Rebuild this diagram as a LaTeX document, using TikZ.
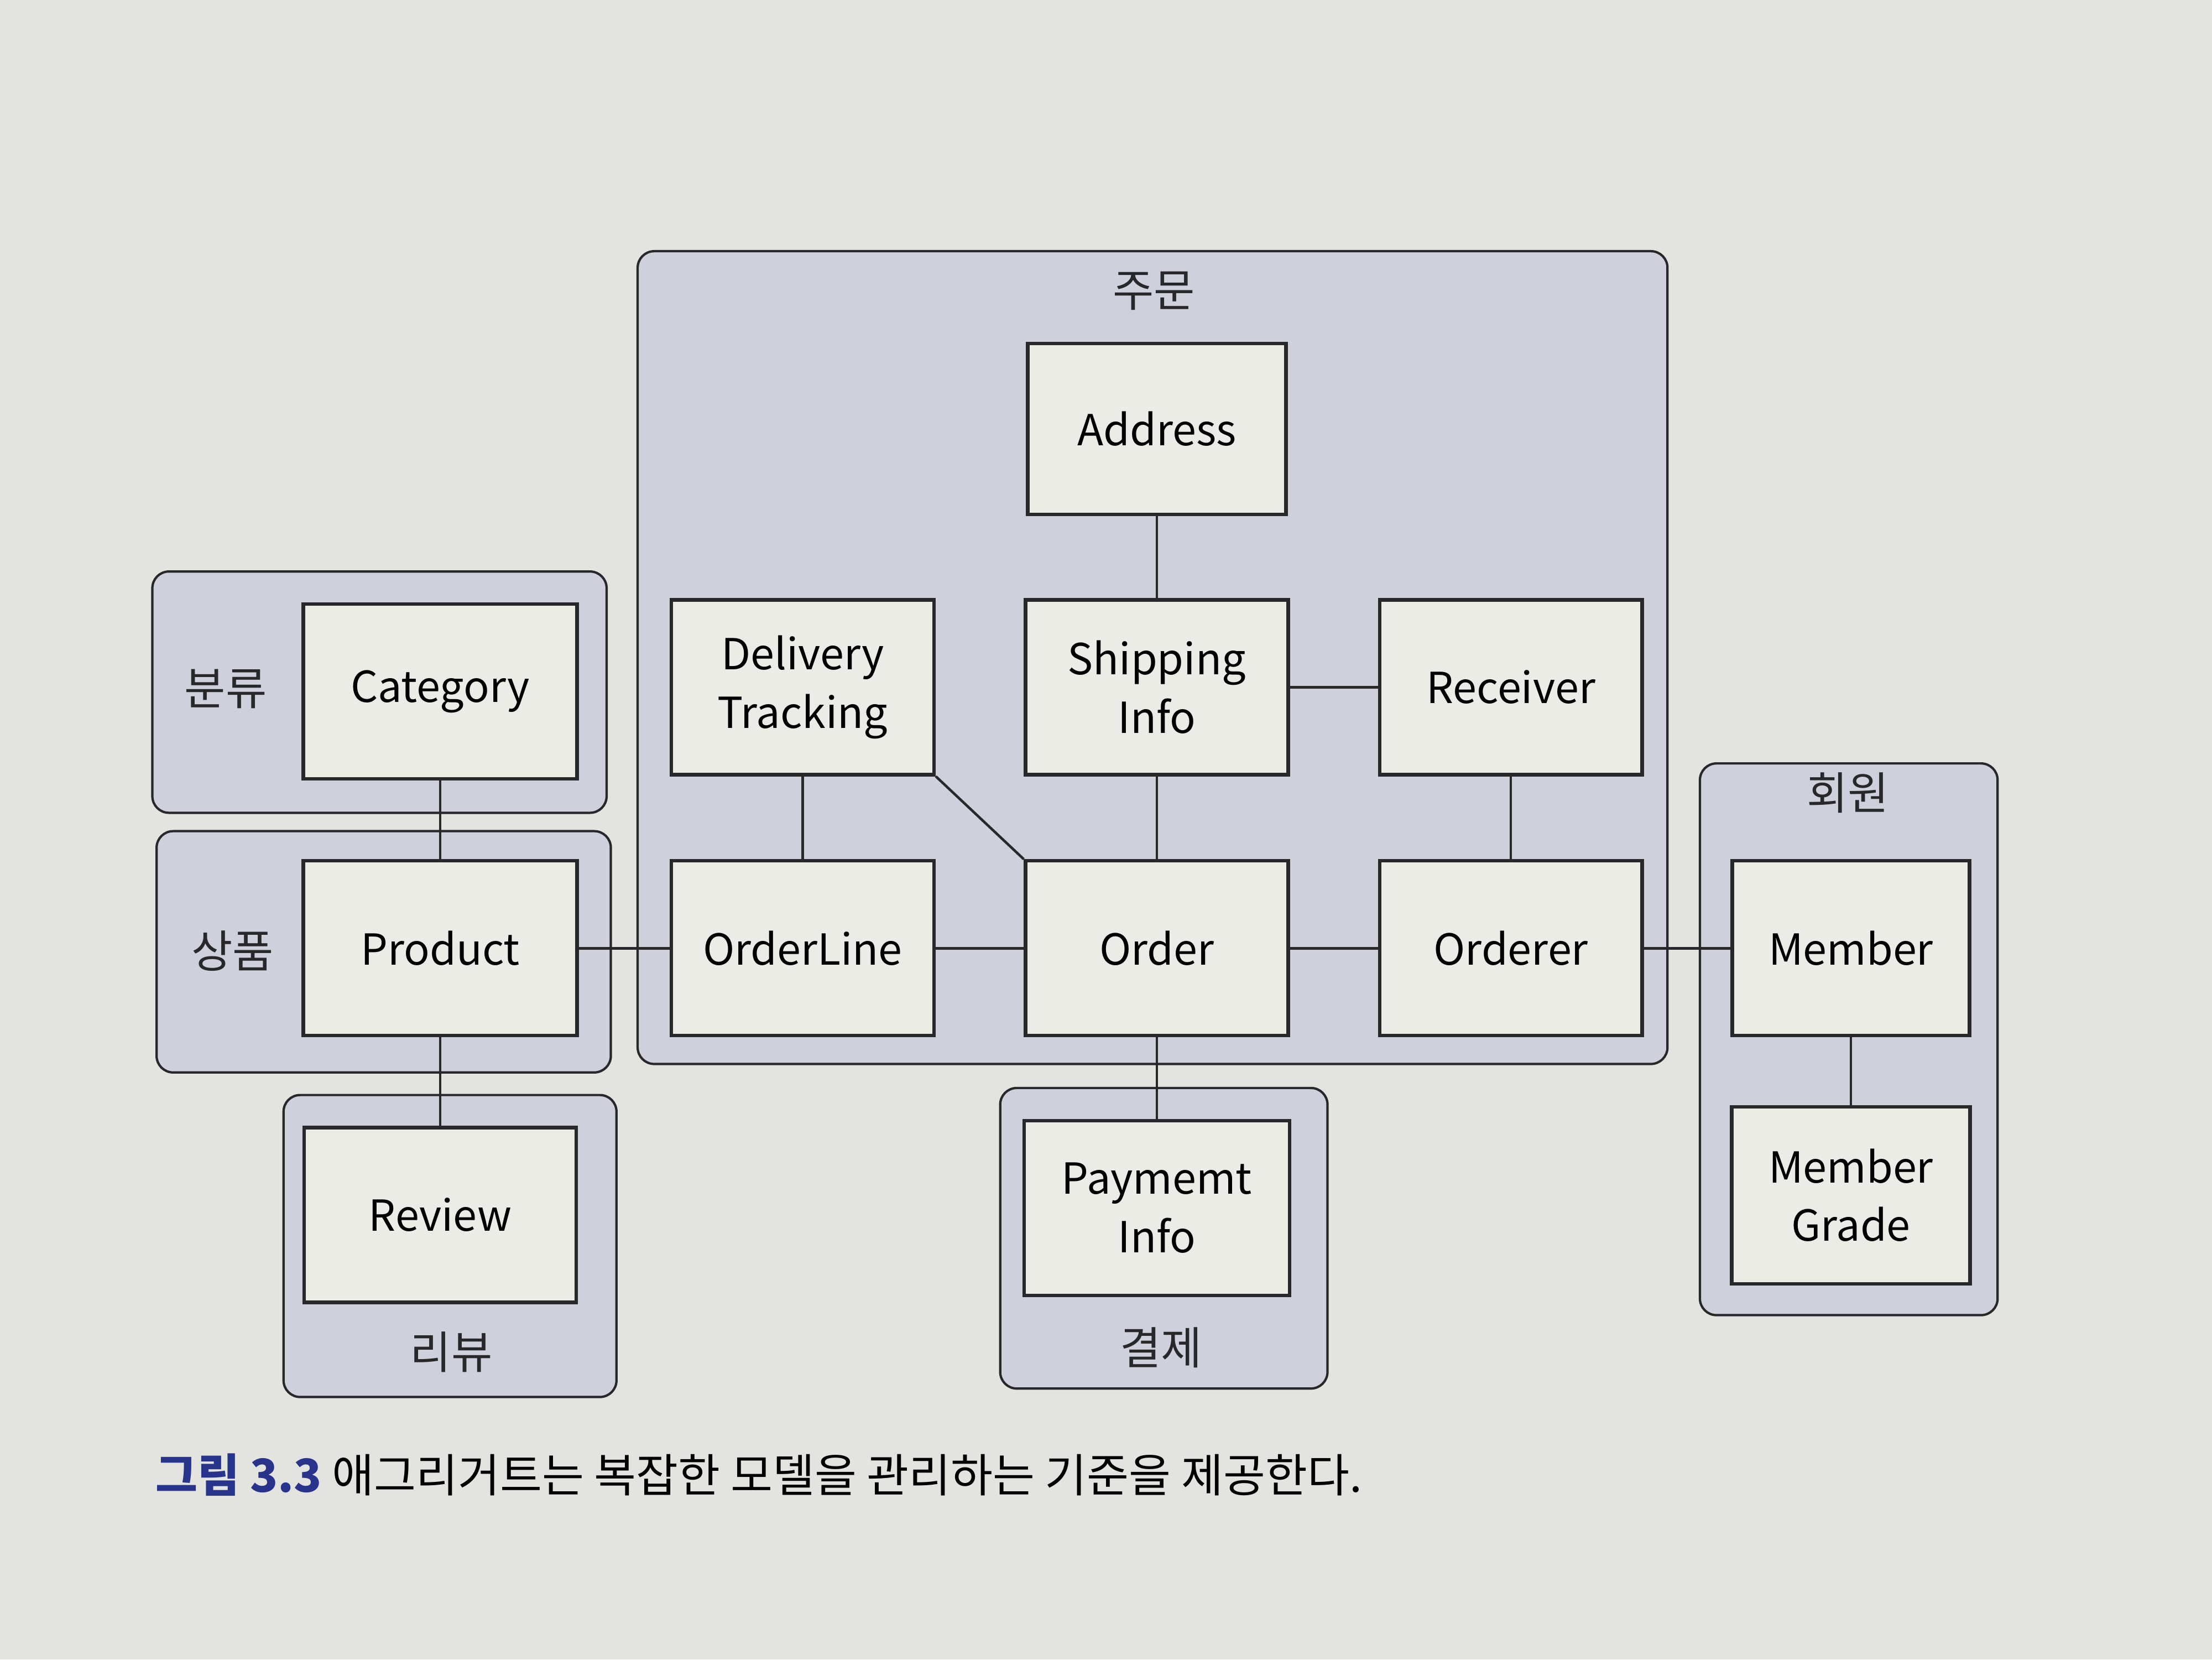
\documentclass[tikz,border=0pt]{standalone}
\usepackage{fontspec}
\setmainfont{Noto Sans CJK KR}
\definecolor{pagebg}{RGB}{227,228,224}
\definecolor{groupfill}{RGB}{206,208,220}
\definecolor{boxfill}{RGB}{236,236,231}
\definecolor{linedark}{RGB}{40,40,42}
\definecolor{captionblue}{RGB}{40,52,140}
\newcommand{\entityfont}{\fontsize{22}{30}\selectfont}
\newcommand{\groupfont}{\fontsize{23}{28}\selectfont}
\tikzset{
    entity/.style={draw=linedark, line width=1.8pt, fill=boxfill,
        minimum width=4.75cm, minimum height=3.16cm, align=center,
        inner sep=0pt, font=\entityfont},
    context/.style={draw=linedark, line width=1.2pt, fill=groupfill,
        rounded corners=0.3cm},
    grouplabel/.style={font=\groupfont, text=linedark},
    link/.style={draw=linedark, line width=1.3pt},
}
\begin{document}
\begin{tikzpicture}[x=0.02551cm, y=-0.02551cm]
    % page
    \fill[pagebg] (0,0) rectangle (1568,1176);
    \useasboundingbox (0,0) rectangle (1568,1176);

    % Draw aggregate groups
    \draw[context] (452,178) rectangle (1182,754);
    \draw[context] (108,405) rectangle (430,576);
    \draw[context] (111,589) rectangle (433,760);
    \draw[context] (201,776) rectangle (437,990);
    \draw[context] (709,771) rectangle (941,984);
    \draw[context] (1205,541) rectangle (1416,932);

    \node[grouplabel] (ordergrp) at (818,206) {주문};
    \node[grouplabel] (categorygrp) at (160,488) {분류};
    \node[grouplabel] (productgrp) at (165,674) {상품};
    \node[grouplabel] (reviewgrp) at (320,958) {리뷰};
    \node[grouplabel] (paymentgrp) at (823,955) {결제};
    \node[grouplabel] (membergrp) at (1310,562) {회원};

    % Draw entities
    \node[entity, minimum width=4.67cm, minimum height=3.09cm] (address) at (820,304) {Address};
    \node[entity] (delivery) at (569,487) {Delivery\\Tracking};
    \node[entity] (shipping) at (820,487) {Shipping\\Info};
    \node[entity] (receiver) at (1071,487) {Receiver};
    \node[entity] (orderline) at (569,672) {OrderLine};
    \node[entity] (order) at (820,672) {Order};
    \node[entity] (orderer) at (1071,672) {Orderer};

    \node[entity, minimum width=4.95cm] (category) at (312,490) {Category};
    \node[entity, minimum width=4.95cm] (product) at (312,672) {Product};
    \node[entity, minimum width=4.92cm] (review) at (312,861) {Review};
    \node[entity, minimum width=4.8cm] (payment) at (820,856) {Paymemt\\Info};
    \node[entity, minimum width=4.29cm] (member) at (1312,672) {Member};
    \node[entity, minimum width=4.31cm, minimum height=3.2cm] (grade) at (1312,847) {Member\\Grade};

    % Draw associations
    \draw[link] (address) -- (shipping);
    \draw[link] (shipping) -- (receiver);
    \draw[link] (delivery) -- (orderline);
    \draw[link] (delivery.south east) -- (order.north west);
    \draw[link] (shipping) -- (order);
    \draw[link] (receiver) -- (orderer);
    \draw[link] (orderline) -- (order);
    \draw[link] (order) -- (orderer);
    \draw[link] (orderer) -- (member);
    \draw[link] (member) -- (grade);
    \draw[link] (product) -- (orderline);
    \draw[link] (category) -- (product);
    \draw[link] (product) -- (review);
    \draw[link] (order) -- (payment);

    % caption
    \node[anchor=west, font=\fontsize{23.5}{28}\selectfont, inner sep=0pt] (caption) at (110,1045)
        {{\color{captionblue}\bfseries 그림 3.3} 애그리거트는 복잡한 모델을 관리하는 기준을 제공한다.};
\end{tikzpicture}
\end{document}
